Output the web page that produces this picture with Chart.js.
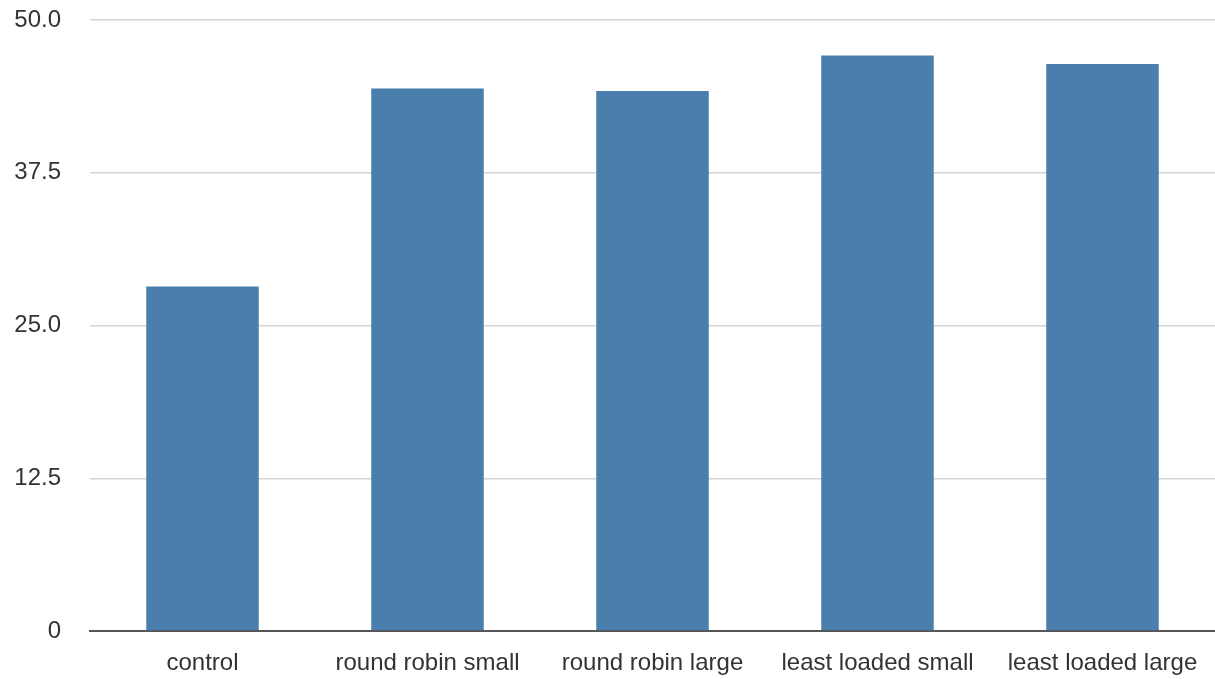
<!DOCTYPE html>
<html>
<head>
<meta charset="utf-8">
<script src="https://cdn.jsdelivr.net/npm/chart.js@4"></script>
<style>
  html, body { margin: 0; padding: 0; background: #fff; }
  #wrap { width: 1215px; height: 679px; }
</style>
</head>
<body>
<div id="wrap"><canvas id="bars"></canvas></div>
<script>
// values
var categories = ['control', 'round robin small', 'round robin large', 'least loaded small', 'least loaded large'];
var values = [28.2, 44.4, 44.2, 47.1, 46.4];
var yTicks = [0, 12.5, 25, 37.5, 50];

function fmtTick(v) {
    return v === 0 ? '0' : v.toFixed(1);
}

var ctx = document.getElementById('bars').getContext('2d');

var chart = new Chart(ctx, {
    type: 'bar',
    data: {
        labels: categories,
        datasets: [{
            data: values,
            backgroundColor: '#4a7eac',
            borderWidth: 0,
            barPercentage: 0.5,
            categoryPercentage: 1.0
        }]
    },
    options: {
        responsive: true,
        maintainAspectRatio: false,
        animation: false,
        layout: { padding: { top: 20, right: 0, left: 0, bottom: 0 } },
        plugins: {
            legend: { display: false },
            tooltip: { enabled: false }
        },
        scales: {
            x: {
                grid: { display: false },
                border: { display: true, color: '#555', width: 2 },
                ticks: {
                    color: '#333',
                    padding: 10,
                    maxRotation: 0,
                    font: { family: 'Liberation Sans', size: 24 }
                },
                afterFit: function (scale) { scale.height = 48; }
            },
            y: {
                min: 0,
                max: 50,
                afterBuildTicks: function (scale) {
                    scale.ticks = yTicks.map(function (v) { return { value: v }; });
                },
                grid: { color: '#d4d4d4', lineWidth: 1.5, drawTicks: false },
                border: { display: false },
                ticks: {
                    color: '#333',
                    padding: 29,
                    callback: function (v) { return fmtTick(v); },
                    font: { family: 'Liberation Sans', size: 24 }
                },
                afterFit: function (scale) {
                    scale.width = 90;
                    scale.paddingTop = 0;
                    scale.paddingBottom = 0;
                }
            }
        }
    }
});
</script>
</body>
</html>
